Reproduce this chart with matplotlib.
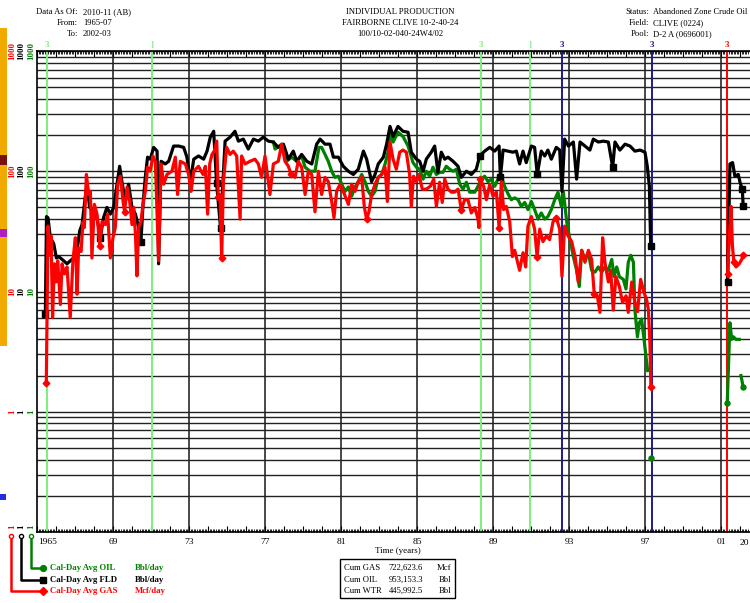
import numpy as np
import matplotlib
matplotlib.use("Agg")
import matplotlib.pyplot as plt
from matplotlib.patches import Rectangle
from matplotlib.ticker import MultipleLocator, NullFormatter, LogLocator

plt.rcParams['font.family'] = ['Liberation Serif', 'DejaVu Serif']

nan = np.nan

# Cal-Day Avg FLD (Bbl/day)
fld_years = [1965.44, 1965.50, 1965.58, 1965.70, 1965.88, 1966.02, 1966.14, 1966.32, 1966.58, 1966.75,
             1966.93, 1967.10, 1967.25, 1967.37, 1967.54, 1967.63, 1967.77, 1967.98, 1968.16, 1968.33,
             1968.50, 1968.68, 1968.86, 1969.04, 1969.21, 1969.35, 1969.47, 1969.65, 1969.82, 1970.00,
             1970.18, 1970.35, 1970.47, 1970.58, 1970.70, 1970.82, 1970.96, 1971.14, 1971.32, 1971.40,
             1971.53, 1971.75, 1971.93, 1972.19, 1972.46, 1972.72, 1972.89, 1973.07, 1973.25, 1973.50,
             1973.77, 1973.95, 1974.12, 1974.30, 1974.45, 1974.66, 1974.90, 1975.16, 1975.42, 1975.60,
             1975.86, 1976.12, 1976.39, 1976.65, 1976.91, 1977.18, 1977.44, 1977.70, 1977.97, 1978.23,
             1978.49, 1978.67, 1978.93, 1979.20, 1979.46, 1979.72, 1979.90, 1980.16, 1980.42, 1980.60,
             1980.86, 1981.12, 1981.39, 1981.65, 1981.91, 1982.18, 1982.35, 1982.61, 1982.79, 1982.96,
             1983.23, 1983.40, 1983.58, 1983.74, 1984.00, 1984.26, 1984.53, 1984.70, 1984.97, 1985.14,
             1985.32, 1985.49, 1985.75, 1985.93, 1986.10, 1986.28, 1986.46, 1986.63, 1986.90, 1987.16,
             1987.33, 1987.60, 1987.86, 1988.12, 1988.30, 1988.56, 1988.83, 1989.09, 1989.32, 1989.39,
             1989.53, 1989.79, 1990.05, 1990.23, 1990.40, 1990.58, 1990.75, 1991.02, 1991.19, 1991.33,
             1991.54, 1991.72, 1991.89, 1992.07, 1992.33, 1992.51, 1992.63, 1992.77, 1992.97, 1993.23,
             1993.40, 1993.58, 1993.84, 1994.10, 1994.28, 1994.54, 1994.81, 1995.07, 1995.30, 1995.42,
             1995.68, 1995.95, 1996.21, 1996.47, 1996.74, 1997.00, 1997.12, 1997.23, 1997.30, nan,
             2001.35, 2001.47, 2001.61, 2001.73, 2001.91, 2002.00, 2002.12, 2002.17]
fld_rate = [6.5, 42, 41, 28, 25, 19, 19.5, 18.5, 17, 18,
            19, 21.5, 32, 36, 61, 78, 50, 46, 41, 28,
            41, 50, 44, 50, 78, 110, 82, 56, 78, 50,
            44, 34, 26, 53, 89, 131, 126, 158, 147, 17,
            121, 115, 121, 162, 162, 158, 131, 82, 126, 134,
            126, 147, 192, 215, 80, 34, 178, 192, 215, 178,
            185, 153, 185, 178, 192, 178, 175, 158, 168, 126,
            147, 121, 138, 121, 115, 168, 185, 168, 168, 131,
            131, 110, 100, 94, 104, 147, 126, 82, 94, 115,
            131, 168, 236, 195, 236, 215, 211, 144, 126, 121,
            100, 126, 144, 162, 98, 144, 126, 131, 121, 110,
            89, 100, 94, 104, 134, 147, 158, 147, 162, 89,
            150, 147, 144, 147, 115, 147, 118, 162, 158, 94,
            147, 134, 150, 126, 158, 150, 68, 185, 162, 175,
            86, 175, 162, 150, 185, 175, 178, 175, 108, 175,
            150, 168, 162, 147, 150, 144, 110, 75, 24, nan,
            12, 115, 118, 91, 94, 81, 71, 51]
fld_marks = [1965.44, 1968.33, 1970.47, 1974.45, 1974.66, 1988.30, 1989.39, 1991.33,
             1995.30, 1997.30, 2001.35, 2002.12, 2002.17]

# Cal-Day Avg GAS (Mcf/day)
gas_years = [1965.49, 1965.58, 1965.67, 1965.74, 1965.82, 1965.91, 1966.00, 1966.09, 1966.23, 1966.32,
             1966.44, 1966.58, 1966.75, 1966.89, 1967.02, 1967.11, 1967.19, 1967.32, 1967.42, 1967.49,
             1967.60, 1967.72, 1967.81, 1967.89, 1968.02, 1968.16, 1968.30, 1968.42, 1968.60, 1968.72,
             1968.86, 1969.00, 1969.12, 1969.25, 1969.39, 1969.53, 1969.61, 1969.74, 1969.88, 1970.00,
             1970.09, 1970.18, 1970.26, 1970.35, 1970.47, 1970.58, 1970.70, 1970.82, 1970.96, 1971.10,
             1971.23, 1971.40, 1971.53, 1971.67, 1971.84, 1972.10, 1972.28, 1972.40, 1972.54, 1972.81,
             1972.98, 1973.11, 1973.25, 1973.50, 1973.74, 1973.86, 1973.98, 1974.09, 1974.21, 1974.33,
             1974.46, 1974.54, 1974.63, 1974.72, 1974.81, 1974.98, 1975.16, 1975.33, 1975.51, 1975.69,
             1975.77, 1975.95, 1976.21, 1976.47, 1976.65, 1976.82, 1977.00, 1977.26, 1977.44, 1977.70,
             1977.88, 1978.05, 1978.23, 1978.37, 1978.58, 1978.75, 1978.93, 1979.11, 1979.28, 1979.46,
             1979.63, 1979.81, 1979.98, 1980.16, 1980.33, 1980.51, 1980.63, 1980.77, 1980.95, 1981.12,
             1981.39, 1981.56, 1981.74, 1981.91, 1982.09, 1982.23, 1982.35, 1982.47, 1982.61, 1982.79,
             1982.96, 1983.14, 1983.32, 1983.44, 1983.58, 1983.74, 1983.91, 1984.09, 1984.26, 1984.44,
             1984.61, 1984.70, 1984.82, 1984.97, 1985.10, 1985.28, 1985.49, 1985.70, 1985.88, 1986.02,
             1986.19, 1986.33, 1986.46, 1986.63, 1986.81, 1986.98, 1987.16, 1987.33, 1987.51, 1987.68,
             1987.86, 1988.04, 1988.21, 1988.26, 1988.33, 1988.51, 1988.65, 1988.83, 1989.00, 1989.18,
             1989.32, 1989.44, 1989.56, 1989.70, 1989.88, 1990.02, 1990.14, 1990.26, 1990.40, 1990.58,
             1990.72, 1990.84, 1991.02, 1991.19, 1991.32, 1991.46, 1991.63, 1991.81, 1991.98, 1992.16,
             1992.33, 1992.51, 1992.63, 1992.77, 1992.95, 1993.14, 1993.32, 1993.49, 1993.67, 1993.84,
             1994.02, 1994.19, 1994.33, 1994.49, 1994.63, 1994.77, 1994.89, 1995.07, 1995.19, 1995.33,
             1995.47, 1995.65, 1995.82, 1996.00, 1996.12, 1996.30, 1996.47, 1996.61, 1996.77, 1996.95,
             1997.09, 1997.18, 1997.26, 1997.31, nan, 2001.35, 2001.44, 2001.53, 2001.60, 2001.68,
             2001.79, 2001.96, 2002.09, 2002.17]
gas_rate = [1.75, 35, 20, 29, 6.1, 17, 12, 18, 7.8, 17,
            14, 16, 6.1, 18, 28, 9.5, 23, 21.5, 38, 34,
            94, 64, 68, 19, 53, 44, 24, 38, 36, 44,
            19, 28, 34, 78, 91, 56, 46, 74, 56, 36,
            50, 30, 13.5, 34, 38, 53, 68, 108, 100, 134,
            121, 18, 115, 78, 94, 100, 131, 64, 121, 115,
            94, 68, 100, 110, 94, 110, 44, 115, 138, 147,
            178, 61, 64, 19, 82, 158, 138, 147, 134, 40,
            134, 115, 121, 126, 115, 89, 134, 64, 115, 121,
            168, 121, 110, 94, 89, 121, 108, 64, 100, 94,
            46, 100, 64, 89, 82, 56, 41, 68, 78, 68,
            53, 78, 68, 82, 89, 50, 40, 46, 64, 78,
            89, 94, 108, 56, 175, 126, 104, 144, 150, 144,
            94, 51, 91, 82, 94, 71, 71, 75, 86, 51,
            81, 55, 86, 71, 67, 67, 71, 48, 58, 58,
            45, 50, 40, 34, 86, 75, 58, 78, 62, 67,
            34, 82, 48, 51, 38, 19.5, 22, 18.5, 15, 21,
            16, 35, 42, 33, 19.5, 33, 26, 29, 27, 38,
            41, 33, 13.3, 35, 29, 26, 19.5, 12, 22, 17.5,
            22, 18.5, 9.5, 9.2, 6.7, 28, 17.5, 12, 15, 7,
            13.3, 11, 8.1, 9.2, 6.7, 12, 8.1, 6.8, 12.6, 9.8,
            8.5, 7, 3.7, 1.6, nan, 14, 29, 51, 24, 17.5,
            16, 17, 18.5, 20]
gas_marks = [1965.49, 1968.30, 1969.61, 1974.54, 1974.72, 1978.37, 1982.35, 1987.33, 1988.33,
             1989.32, 1991.32, 1992.33, 1994.33, 1997.31, 2001.35, 2001.68, 2002.17]

# Cal-Day Avg OIL (Bbl/day) - drawn under FLD, only visible once water comes in
oil_years = [1977.44, 1977.53, 1977.88, 1978.14, 1978.40, 1978.67, 1978.93, 1979.11, 1979.37, 1979.63,
             1979.84, 1979.98, 1980.16, 1980.33, 1980.51, 1980.68, 1980.86, 1981.04, 1981.21, 1981.39,
             1981.56, 1981.74, 1981.91, 1982.09, 1982.26, 1982.44, 1982.61, 1982.79, 1982.96, 1983.14,
             1983.32, 1983.49, 1983.58, 1983.74, 1984.00, 1984.26, 1984.53, 1984.79, 1984.97, 1985.14,
             1985.32, 1985.49, 1985.67, 1985.84, 1986.02, 1986.19, 1986.37, 1986.54, 1986.72, 1986.90,
             1987.07, 1987.25, 1987.42, 1987.60, 1987.77, 1988.04, 1988.21, 1988.39, 1988.56, 1988.74,
             1988.91, 1989.09, 1989.26, 1989.44, 1989.61, 1989.79, 1989.96, 1990.14, 1990.32, 1990.49,
             1990.67, 1990.84, 1991.02, 1991.19, 1991.37, 1991.54, 1991.72, 1991.89, 1992.07, 1992.25,
             1992.42, 1992.60, 1992.70, 1992.88, 1993.05, 1993.23, 1993.40, 1993.54, 1993.67, 1993.84,
             1994.02, 1994.19, 1994.37, 1994.54, 1994.72, 1994.89, 1995.07, 1995.25, 1995.37, 1995.51,
             1995.65, 1995.86, 1996.00, 1996.12, 1996.25, 1996.39, 1996.47, 1996.60, 1996.70, 1996.82,
             1996.95, 1997.05, 1997.14, nan, 1997.30, nan, 2001.33, 2001.47, 2001.56, 2001.65,
             2001.79, 2001.96, nan, 2002.05, 2002.17]
oil_rate = [175, 153, 168, 121, 131, 121, 134, 108, 100, 100,
            158, 158, 138, 121, 100, 89, 91, 78, 68, 74,
            62, 74, 82, 94, 82, 68, 62, 68, 89, 94,
            115, 147, 215, 175, 211, 195, 162, 118, 108, 104,
            86, 100, 91, 108, 94, 98, 98, 110, 104, 100,
            104, 78, 71, 81, 67, 67, 75, 86, 91, 82,
            86, 75, 86, 91, 75, 65, 58, 60, 58, 51,
            55, 48, 56, 48, 40, 45, 40, 42, 48, 58,
            67, 51, 68, 38, 27, 19.5, 15, 11, 22, 18.5,
            21, 15, 14.5, 16, 14.5, 16, 15, 18.5, 13.3, 16,
            13.3, 12.6, 10.5, 17.5, 20, 17.5, 7, 4.2, 5.5, 5.9,
            4, 2.9, 2.2, nan, 0.41, nan, 1.19, 5.5, 4, 4.2,
            4, 4, nan, 2, 1.6]
oil_marks = [1997.30, 2001.33, 2002.17]

# event lines along the top
event_years = [1965.53, 1971.05, 1988.37, 1990.95, 1992.63, 1997.37, 2001.32]
event_colors = ['#7cf07c', '#7cf07c', '#7cf07c', '#7cf07c', '#1c1c8c', '#1c1c8c', '#ff0000']
event_tags = ['3', ']', '3', ']', '3', '3', '3']

year_ticks = [1965, 1969, 1973, 1977, 1981, 1985, 1989, 1993, 1997, 2001]
year_labels = ['1965', '69', '73', '77', '81', '85', '89', '93', '97', '01']
y_ticks = [1000, 100, 10, 1, 0.1]
y_labels = ['1000', '100', '10', '1', '1']

GREEN = '#008000'
RED = '#ff0000'

W, H = 750, 603
fig = plt.figure(figsize=(W / 100, H / 100), dpi=100)

# overlay in pixel coords for header / legend furniture
ov = fig.add_axes([0, 0, 1, 1])
ov.set_xlim(0, W)
ov.set_ylim(H, 0)
ov.axis('off')

ax = fig.add_axes([37 / W, 71 / H, 760 / W, 481 / H])
ax.set_yscale('log')
ax.set_ylim(0.1, 1000)
ax.set_xlim(1965, 2005)
ax.yaxis.set_minor_locator(LogLocator(base=10, subs=range(2, 10)))
ax.yaxis.grid(True, which='both', color='#222222', lw=1.0)
ax.tick_params(axis='y', which='both', left=False, labelleft=False)
ax.xaxis.set_major_locator(MultipleLocator(1))
ax.xaxis.set_minor_locator(MultipleLocator(1 / 12))
ax.xaxis.set_major_formatter(NullFormatter())
ax.tick_params(axis='x', which='major', direction='in', top=True, bottom=True, length=4, width=0.8)
ax.tick_params(axis='x', which='minor', direction='in', top=True, bottom=True, length=2, width=0.6)
for s in ax.spines.values():
    s.set_linewidth(1.2)

for yr in year_ticks[1:]:
    ax.axvline(yr, color='#3a3a3a', lw=1.3, zorder=1)

xt = ax.get_xaxis_transform()
for yr, c, tag in zip(event_years, event_colors, event_tags):
    ax.axvline(yr, color=c, lw=1.4, zorder=2)
    ax.text(yr, 1.004, tag, transform=xt, color=c, fontsize=6.5, fontweight='bold',
            ha='center', va='bottom', clip_on=False)

def mark_mask(years, marks):
    return np.isin(np.array(years), np.array(marks))

ax.plot(oil_years, oil_rate, color=GREEN, lw=2.3, marker='o', ms=3.6,
        markevery=list(mark_mask(oil_years, oil_marks)), zorder=3)
ax.plot(fld_years, fld_rate, color='black', lw=2.3, marker='s', ms=4.2,
        markevery=list(mark_mask(fld_years, fld_marks)), zorder=4)
ax.plot(gas_years, gas_rate, color=RED, lw=2.3, marker='D', ms=3.4,
        markevery=list(mark_mask(gas_years, gas_marks)), zorder=5)

# x labels
for yr, lab in zip(year_ticks, year_labels):
    if yr == 1965:
        ax.text(yr + 0.05, -0.012, lab, transform=xt, fontsize=6.8, ha='left', va='top')
    else:
        ax.text(yr, -0.012, lab, transform=xt, fontsize=6.8, ha='center', va='top')
ov.text(740, 543, '20', fontsize=6.8, ha='left', va='center')
ax.text(1965 + 361 / 19, -0.032, 'Time (years)', transform=xt, fontsize=6.5, ha='center', va='top')

# three stacked y scales on the left
yt = ax.get_yaxis_transform()
for v, lab in zip(y_ticks, y_labels):
    yy = v if v > 0.1 else 0.11
    for xo, c in zip([-0.033, -0.0205, -0.008], [RED, 'black', GREEN]):
        ax.text(xo, yy, lab, transform=yt, rotation=90, color=c, fontsize=6.5,
                fontweight='bold', ha='center', va='center', clip_on=False)

# left strip
ov.add_patch(Rectangle((0, 28), 7, 318, color='#f2a900', lw=0))
ov.add_patch(Rectangle((0, 155), 7, 10, color='#7a1010', lw=0))
ov.add_patch(Rectangle((0, 229), 7, 8, color='#b020c0', lw=0))
ov.add_patch(Rectangle((0, 494), 6, 6, color='#2030e0', lw=0))

# header
fs = 6.2
ov.text(78, 12, 'Data As Of:', fontsize=fs, ha='right', va='center')
ov.text(83, 12, '2010-11 (AB)', fontsize=fs, ha='left', va='center')
ov.text(78, 23, 'From:', fontsize=fs, ha='right', va='center')
ov.text(83, 23, '1965-07', fontsize=fs, ha='left', va='center')
ov.text(78, 34, 'To:', fontsize=fs, ha='right', va='center')
ov.text(83, 34, '2002-03', fontsize=fs, ha='left', va='center')
ov.text(400, 12, 'INDIVIDUAL PRODUCTION', fontsize=fs, ha='center', va='center')
ov.text(400, 23, 'FAIRBORNE CLIVE 10-2-40-24', fontsize=fs, ha='center', va='center')
ov.text(400, 34, '100/10-02-040-24W4/02', fontsize=fs, ha='center', va='center')
ov.text(649, 12, 'Status:', fontsize=fs, ha='right', va='center')
ov.text(653, 12, 'Abandoned Zone Crude Oil', fontsize=fs - 0.2, ha='left', va='center')
ov.text(649, 23, 'Field:', fontsize=fs, ha='right', va='center')
ov.text(653, 23, 'CLIVE (0224)', fontsize=fs, ha='left', va='center')
ov.text(649, 34, 'Pool:', fontsize=fs, ha='right', va='center')
ov.text(653, 34, 'D-2 A (0696001)', fontsize=fs, ha='left', va='center')

# legend with connectors
leg = [('Cal-Day Avg OIL', 'Bbl/day', GREEN, 'o', 31, 568),
       ('Cal-Day Avg FLD', 'Bbl/day', 'black', 's', 21, 580),
       ('Cal-Day Avg GAS', 'Mcf/day', RED, 'D', 11, 591)]
for name, unit, c, m, lx, ly in leg:
    ov.plot([lx, lx, 43], [536, ly, ly], color=c, lw=1.8)
    ov.plot([lx], [536], marker='o', ms=3, mfc='white', mec=c, mew=1)
    ov.plot([43], [ly], marker=m, ms=4.2 if m != 'D' else 3.6, color=c)
    ov.text(50, ly, name, color=c, fontsize=6.3, fontweight='bold', ha='left', va='center')
    ov.text(135, ly, unit, color=c, fontsize=6.3, fontweight='bold', ha='left', va='center')

# cumulative box
ov.add_patch(Rectangle((340, 559), 115, 39, fill=False, ec='black', lw=1))
cum = [('Cum GAS', '722,623.6', 'Mcf'), ('Cum OIL', '953,153.3', 'Bbl'), ('Cum WTR', '445,992.5', 'Bbl')]
for i, (a, b, u) in enumerate(cum):
    yy = 568 + i * 11.5
    ov.text(344, yy, a, fontsize=6.2, ha='left', va='center')
    ov.text(423, yy, b, fontsize=6.2, ha='right', va='center')
    ov.text(451, yy, u, fontsize=6.2, ha='right', va='center')

fig.savefig('out.png', dpi=100)
